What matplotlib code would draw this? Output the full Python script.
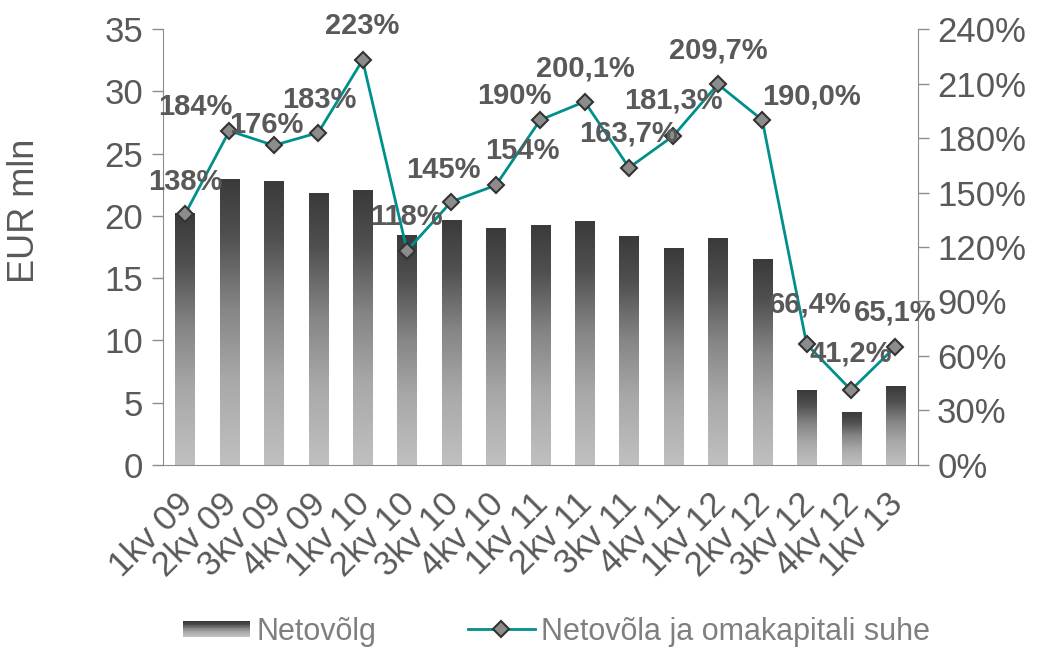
import numpy as np
import matplotlib
matplotlib.use("Agg")
import matplotlib.pyplot as plt
import matplotlib.transforms as mtransforms
from matplotlib.colors import LinearSegmentedColormap
from matplotlib.legend_handler import HandlerBase
from matplotlib.patches import Rectangle
from matplotlib.lines import Line2D

plt.rcParams['font.family'] = ['Liberation Sans', 'DejaVu Sans']

quarters = ["1kv 09", "2kv 09", "3kv 09", "4kv 09", "1kv 10", "2kv 10", "3kv 10", "4kv 10",
            "1kv 11", "2kv 11", "3kv 11", "4kv 11", "1kv 12", "2kv 12", "3kv 12", "4kv 12", "1kv 13"]
net_debt = [20.2, 23.0, 22.8, 21.8, 22.1, 18.5, 19.7, 19.0, 19.3, 19.6, 18.4, 17.4, 18.2, 16.5, 6.0, 4.2, 6.3]
debt_ratio = [138, 184, 176, 183, 223, 118, 145, 154, 190, 200.1, 163.7, 181.3, 209.7, 190.0, 66.4, 41.2, 65.1]
ratio_labels = ["138%", "184%", "176%", "183%", "223%", "118%", "145%", "154%", "190%", "200,1%",
                "163,7%", "181,3%", "209,7%", "190,0%", "66,4%", "41,2%", "65,1%"]

# label offsets in pixels (dx, dy) relative to the marker
label_offsets = [(0, 32), (-34, 24), (-7, 20), (1, 33), (0, 34), (-1, 34), (-8, 32), (27, 34),
                 (-26, 24), (1, 33), (-1, 34), (0, 35), (0, 34), (49, 23), (4, 40), (0, 36), (0, 34)]

txt_col = "#595959"
spine_col = "#8c8c8c"
teal = "#00908c"
grad = LinearSegmentedColormap.from_list(
    "g", [(0, "#c0c0c0"), (0.3, "#a8a8a8"), (0.55, "#858585"), (0.8, "#505050"), (1, "#3a3a3a")])

fig = plt.figure(figsize=(10.5, 6.5), dpi=100)
ax = fig.add_axes([0.155, 0.285, 0.719, 0.67])
x = np.arange(len(quarters))
width = 0.43
bars = ax.bar(x, net_debt, width=width, color="none", edgecolor="none", zorder=2)
gimg = np.linspace(0, 1, 256).reshape(-1, 1)
for b in bars:
    x0, h = b.get_x(), b.get_height()
    im = ax.imshow(gimg, extent=[x0, x0 + width, 0, h], origin="lower", aspect="auto",
                   cmap=grad, vmin=0, vmax=1, zorder=2)
    im.set_clip_path(b)

ax.set_xlim(-0.5, len(quarters) - 0.5)
ax.set_ylim(0, 35)
ax.set_yticks(range(0, 36, 5))
ax.set_xticks(x)
ax.set_xticklabels(quarters, rotation=45, ha="right", rotation_mode="anchor")
ax.tick_params(axis="x", length=0, pad=12, labelsize=25, colors=txt_col)
ax.tick_params(axis="y", length=8, width=1, color=spine_col, labelsize=25, labelcolor=txt_col, pad=6)
shift = mtransforms.ScaledTranslation(-0.09, -0.06, fig.dpi_scale_trans)
for lab in ax.get_xticklabels():
    lab.set_transform(lab.get_transform() + shift)
ax.set_ylabel("EUR mln", fontsize=26, color=txt_col)
ax.yaxis.set_label_coords(-0.16, 0.583)
for s in ["top", "right"]:
    ax.spines[s].set_visible(False)
for s in ["left", "bottom"]:
    ax.spines[s].set_color(spine_col)

ax2 = ax.twinx()
ax2.plot(x, debt_ratio, color=teal, lw=2, marker="D", ms=8, mfc="#8c8c8c", mec="#333333",
         mew=1.5, zorder=5)
ax2.set_ylim(0, 240)
ax2.set_yticks(range(0, 241, 30))
ax2.set_yticklabels([f"{v}%" for v in range(0, 241, 30)])
ax2.tick_params(axis="y", length=8, width=1, color=spine_col, labelsize=25, labelcolor=txt_col, pad=6)
for s in ["top", "left", "bottom"]:
    ax2.spines[s].set_visible(False)
ax2.spines["right"].set_color(spine_col)

for xi, yi, lab, off in zip(x, debt_ratio, ratio_labels, label_offsets):
    ax2.annotate(lab, (xi, yi), xytext=off, textcoords="offset pixels", ha="center", va="center",
                 fontsize=21, fontweight="bold", color=txt_col, zorder=6)


class GradHandler(HandlerBase):
    def create_artists(self, legend, orig_handle, xdescent, ydescent, width, height, fontsize, trans):
        n = 20
        hh = height * 0.7
        y0 = -ydescent + (height - hh) / 2
        arts = []
        for i in range(n):
            arts.append(Rectangle((-xdescent, y0 + hh * i / n), width, hh / n + 0.3,
                                  facecolor=grad(i / (n - 1)), edgecolor="none", transform=trans))
        return arts


bar_handle = Rectangle((0, 0), 1, 1)
line_handle = Line2D([], [], color=teal, lw=2, marker="D", ms=8, mfc="#8c8c8c", mec="#333333", mew=1.5)
leg = fig.legend([bar_handle, line_handle], ["Netovõlg", "Netovõla ja omakapitali suhe"],
                 handler_map={Rectangle: GradHandler()}, loc="center", bbox_to_anchor=(0.53, 0.028),
                 ncol=2, frameon=False, handlelength=2.2, handletextpad=0.2,
                 columnspacing=3.0, prop={"size": 22})
for t in leg.get_texts():
    t.set_color("#7f7f7f")

fig.savefig("out.png", dpi=100)
